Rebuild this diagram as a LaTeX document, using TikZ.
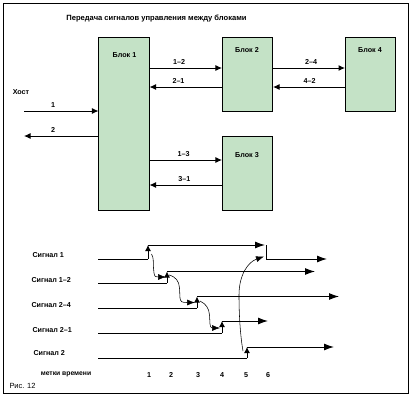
\documentclass[tikz,border=0pt]{standalone}
\usepackage{fontspec}
\setmainfont{Liberation Sans}
\usetikzlibrary{arrows.meta}
\definecolor{blockgreen}{HTML}{C4E2C6}
\begin{document}
\begin{tikzpicture}[x=1bp,y=-1bp, line width=1bp,
  block/.style={draw, fill=blockgreen, minimum width=50bp, inner sep=0pt},
  lab/.style={font=\bfseries\fontsize{7.2}{8}\selectfont, inner sep=1bp},
  conn/.style={-{Latex[length=6.5bp,width=6bp]}},
  sigarr/.style={-{Latex[length=10bp,width=7bp]}},
  uparr/.style={-{Latex[length=6bp,width=6bp]}},
  cause/.style={line width=0.55bp, -{Latex[length=8bp,width=6bp]}},
]
\useasboundingbox (0,0) rectangle (410,405);
\draw (3,3) rectangle (408,393);

% title
\node[lab, font=\bfseries\fontsize{7.6}{9}\selectfont] (title) at (156.5,19) {Передача сигналов управления между блоками};

% blocks
\node[block, minimum height=173bp] (b1) at (124,123.5) {};
\node[block, minimum height=74bp] (b2) at (247.5,74) {};
\node[block, minimum height=74bp] (b4) at (370.5,74) {};
\node[block, minimum height=74bp] (b3) at (247.5,173) {};
\node[lab] (b1l) at (124.5,55) {Блок 1};
\node[lab] (b2l) at (247,50) {Блок 2};
\node[lab] (b4l) at (370,50) {Блок 4};
\node[lab] (b3l) at (247,155) {Блок 3};

% level coordinates
\coordinate (ya) at (0,68);
\coordinate (yb) at (0,87);
\coordinate (yc) at (0,160);
\coordinate (yd) at (0,185);

\draw[conn] (b1.east |- ya) -- (b2.west |- ya) node[lab, above=2bp, pos=0.41] {1–2};
\draw[conn] (b2.west |- yb) -- (b1.east |- yb) node[lab, above=2bp, pos=0.6] {2–1};
\draw[conn] (b2.east |- ya) -- (b4.west |- ya) node[lab, above=2bp, pos=0.53] {2–4};
\draw[conn] (b4.west |- yb) -- (b2.east |- yb) node[lab, above=2bp, pos=0.49] {4–2};
\draw[conn] (b1.east |- yc) -- (b3.west |- yc) node[lab, above=2bp, pos=0.47] {1–3};
\draw[conn] (b3.west |- yd) -- (b1.east |- yd) node[lab, above=2bp, pos=0.52] {3–1};

% host
\node[lab] (host) at (21,92) {Хост};
\coordinate (h1) at (24,111);
\coordinate (h2) at (24,136);
\draw[conn] (h1) -- (b1.west |- h1) node[lab, above=2bp, pos=0.39] {1};
\draw[conn] (b1.west |- h2) -- (h2) node[lab, above=2bp, pos=0.61] {2};

% timing diagram labels
\node[lab, anchor=west] (sl1) at (31,255) {Сигнал 1};
\node[lab, anchor=west] (sl12) at (30,280) {Сигнал 1–2};
\node[lab, anchor=west] (sl24) at (30,305) {Сигнал 2–4};
\node[lab, anchor=west] (sl21) at (31,330) {Сигнал 2–1};
\node[lab, anchor=west] (sl2) at (32,353) {Сигнал 2};
\node[lab, font=\bfseries\fontsize{6.8}{7}\selectfont] (tm) at (66,374) {метки времени};
\node[lab, font=\fontsize{7.5}{8}\selectfont, anchor=west] (fig) at (8,386) {Рис. 12};

\foreach \x/\n in {149/1,171/2,198/3,222/4,246/5,268/6}
  \node[lab] (t\n) at (\x,375) {\n};

% signal 1
\draw (98,259) -- (148,259);
\draw[uparr] (148,259) -- (148,245);
\draw[sigarr] (148,245) -- (265,245);
\draw (266,245) -- (266,259);
\draw[sigarr] (266,259) -- (327,259);
% signal 1-2
\draw (98,283) -- (167,283);
\draw[uparr] (167,283) -- (167,271.5);
\draw[sigarr] (167,271.5) -- (315,271.5);
% signal 2-4
\draw (98,308) -- (197,308);
\draw[uparr] (197,308) -- (197,296.5);
\draw[sigarr] (197,296.5) -- (339,296.5);
% signal 2-1
\draw (98,333) -- (222,333);
\draw[uparr] (222,333) -- (222,321);
\draw[sigarr] (222,321) -- (268,321);
% signal 2
\draw (98,358) -- (247,358);
\draw[uparr] (247,358) -- (247,347);
\draw[sigarr] (247,347) -- (334,347);

% causal curves
\draw[cause] (151.5,254) .. controls (154,258) and (153,262) .. (153.5,268) -- (154,273) .. controls (154.5,277) and (156,277) .. (166,277);
\draw[cause] (169,275) .. controls (176,277) and (179,281) .. (179.5,288) -- (180,298) .. controls (180.5,302) and (182,302.5) .. (195,302.5);
\draw[cause] (200,301) .. controls (206,304) and (209,308) .. (209.5,315) -- (210,324) .. controls (210.5,328) and (212,328) .. (220,328);
\draw[cause] (243,351) .. controls (241,340) and (239,320) .. (239,295) .. controls (239,275) and (248,262) .. (264,256.5);
\end{tikzpicture}
\end{document}
